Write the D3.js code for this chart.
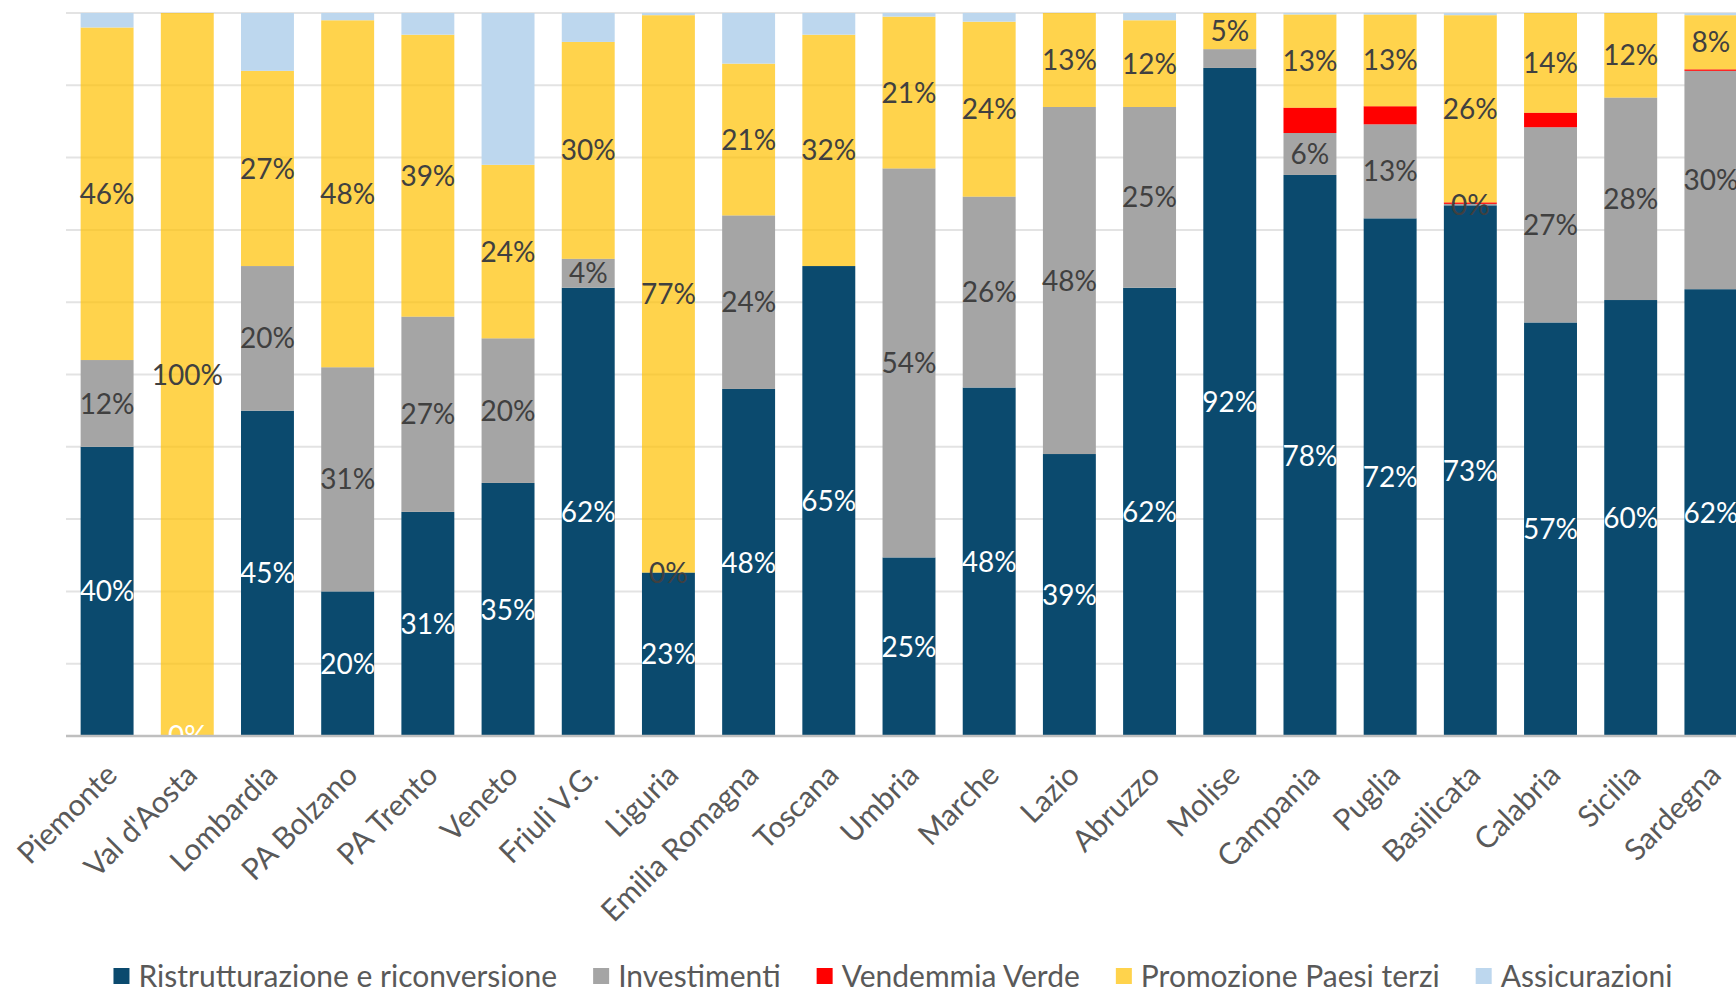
<!DOCTYPE html>
<meta charset="utf-8">
<style type="text/css">
html, body{
	padding: 0;
	margin: 0;
	background: white;
}
text{
	font-family: Lato, "Open Sans", sans-serif;
}
</style>

<svg width=1736 height=989></svg>

<script src="https://cdn.jsdelivr.net/npm/d3@7/dist/d3.min.js"></script>

<script type="text/javascript">
// values, in % of each region's total
var regions = ['Piemonte',"Val d'Aosta",'Lombardia','PA Bolzano','PA Trento','Veneto','Friuli V.G.','Liguria','Emilia Romagna','Toscana','Umbria','Marche','Lazio','Abruzzo','Molise','Campania','Puglia','Basilicata','Calabria','Sicilia','Sardegna']
var series = ['Ristrutturazione e riconversione','Investimenti','Vendemmia Verde','Promozione Paesi terzi','Assicurazioni']

var ristrutturazione = [40, 0, 45, 20, 31, 35, 62, 22.6, 48, 65, 24.7, 48.2, 39, 62, 92.4, 77.6, 71.6, 73.4, 57.2, 60.3, 61.8]
var investimenti     = [12, null, 20, 31, 27, 20, 4, 0, 24, null, 53.8, 26.4, 48, 25, 2.6, 5.8, 13, 0.2, 27, 28, 30.2]
var vendemmia        = [0, 0, 0, 0, 0, 0, 0, 0, 0, 0, 0, 0, 0, 0, 0, 3.5, 2.5, 0.2, 2, 0, 0.2]
var promozione       = [46, 100, 27, 48, 39, 24, 30, 77.1, 21, 32, 21, 24.2, 13, 12, 5, 12.9, 12.7, 25.9, 13.8, 11.7, 7.5]
var assicurazioni    = [2, 0, 8, 1, 3, 21, 4, 0.3, 7, 3, 0.5, 1.2, 0, 1, 0, 0.2, 0.2, 0.3, 0, 0, 0.3]

var yTicks = [0,10,20,30,40,50,60,70,80,90,100]
var hiddenLabels = ['Molise|Investimenti']

var colors = ['#0B4A6E','#A5A5A5','#FF0000','#FFC000','#BDD7EE']
var labelColors = ['#FFFFFF','#404040',null,'#404040',null]

var columns = [ristrutturazione, investimenti, vendemmia, promozione, assicurazioni]
var data = regions.map((r,i)=>{
	var o = {region:r}
	series.forEach((s,k)=>{ o[s] = columns[k][i] })
	return o
})

var svg = d3.select('svg')
var x = d3.scaleBand().domain(regions).range([67, 1751]).paddingInner(0.34).paddingOuter(0.17)
var y = d3.scaleLinear().domain([0,100]).range([736, 13])

// grid
svg.append('g').selectAll('line')
	.data(yTicks.filter(d=>d>0))
	.enter().append('line')
	.attr('x1',66).attr('x2',1736)
	.attr('y1',d=>y(d)).attr('y2',d=>y(d))
	.style('stroke','#E3E3E3').style('stroke-width',2)

var stack = d3.stack().keys(series).value((d,k)=>d[k]||0)
var layers = stack(data)

svg.append('g').selectAll('g')
	.data(layers)
	.enter().append('g')
	.style('fill',(d,i)=>colors[i])
	.style('fill-opacity',(d,i)=>i==3?0.7:1)
	.selectAll('rect')
	.data(d=>d)
	.enter().append('rect')
	.attr('x',d=>x(d.data.region))
	.attr('width',x.bandwidth())
	.attr('y',d=>y(d[1]))
	.attr('height',d=>y(d[0])-y(d[1]))

// axis line
svg.append('line')
	.attr('x1',66).attr('x2',1736)
	.attr('y1',y(0)).attr('y2',y(0))
	.style('stroke','#BFBFBF').style('stroke-width',2.5)

// data labels, cut at the axis line
svg.append('clipPath').attr('id','plot')
	.append('rect').attr('x',0).attr('y',0).attr('width',1736).attr('height',y(0)-1)

var labels = svg.append('g').attr('clip-path','url(#plot)')
layers.forEach((layer,k)=>{
	if(!labelColors[k]) return
	labels.selectAll('text.s'+k)
		.data(layer.filter(d=>d.data[series[k]]!==null && hiddenLabels.indexOf(d.data.region+'|'+series[k])<0))
		.enter().append('text')
		.attr('class','s'+k)
		.attr('x',d=>x(d.data.region)+x.bandwidth()/2)
		.attr('y',d=>y((d[0]+d[1])/2))
		.attr('dy','0.36em')
		.attr('text-anchor','middle')
		.style('font-size','28px')
		.style('fill',labelColors[k])
		.text(d=>Math.round(d.data[series[k]])+'%')
})

// category labels
svg.append('g').selectAll('text')
	.data(regions)
	.enter().append('text')
	.attr('transform',d=>'translate('+(x(d)+x.bandwidth()/2-3)+','+(y(0)+26)+') rotate(-45)')
	.attr('text-anchor','end')
	.attr('dy','0.7em')
	.style('font-size','30px')
	.style('fill','#595959')
	.text(d=>d)

// legend
var legend = svg.append('g')
var lx = 0
series.forEach((s,i)=>{
	var item = legend.append('g').attr('transform','translate('+lx+',0)')
	item.append('rect').attr('x',0).attr('y',-8).attr('width',16).attr('height',16)
		.style('fill',colors[i]).style('fill-opacity',i==3?0.7:1)
	var t = item.append('text').attr('x',25).attr('dy','0.36em')
		.style('font-size','30px').style('fill','#595959').text(s)
	lx += 25 + t.node().getComputedTextLength() + 36
})
lx -= 36
legend.attr('transform','translate('+(893-lx/2)+',976)')
</script>
